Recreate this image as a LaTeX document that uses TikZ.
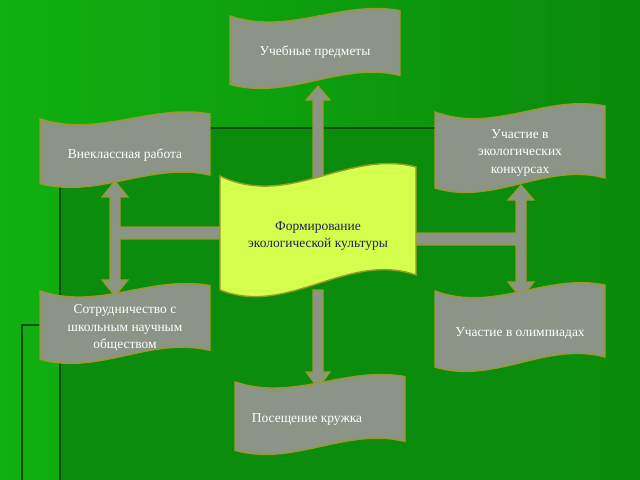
\documentclass[tikz,border=0pt]{standalone}
\usepackage{fontspec}
\setmainfont{Liberation Serif}
\usepackage{tikz}
\definecolor{bgLight}{HTML}{10B010}
\definecolor{bgDark}{HTML}{0A8A0A}
\definecolor{bgBox}{HTML}{0C8C0C}
\definecolor{flagGray}{HTML}{8C9488}
\definecolor{flagEdge}{HTML}{9A9A2A}
\definecolor{flagLime}{HTML}{D4FF4C}
\definecolor{textNavy}{HTML}{1A2450}

% wave banner: name, cx, cy, half width, half height, fill
\newcommand\waveflag[6]{%
  \draw[flagEdge, line width=1.2pt, fill=#6]
    ({#2-#4},{#3-#5}) .. controls ({#2-#4*0.3},{#3-#5+#5*0.55}) and ({#2+#4*0.3},{#3-#5-#5*0.45}) .. ({#2+#4},{#3-#5-#5*0.15})
    -- ({#2+#4},{#3+#5-#5*0.35}) .. controls ({#2+#4*0.3},{#3+#5-#5*0.75}) and ({#2-#4*0.3},{#3+#5+#5*0.35}) .. ({#2-#4},{#3+#5-#5*0.1})
    -- cycle;
  \coordinate (#1) at (#2,#3);}

\tikzset{
  flagtext/.style={text=white, align=center, font=\fontsize{11.5}{15}\selectfont},
  arrowbody/.style={fill=flagGray, draw=flagEdge, line width=1pt, line join=miter}
}

\begin{document}
\begin{tikzpicture}[x=0.03cm, y=-0.03cm]
  \useasboundingbox (0,0) rectangle (640,480);
  % background
  \shade[left color=bgLight, right color=bgDark] (0,0) rectangle (640,480);
  \fill[bgBox] (60,128) rectangle (560,480);
  \draw[green!30!black, line width=1.5pt] (60,480) -- (60,128) -- (560,128);
  \draw[green!30!black, line width=1.5pt] (22,480) -- (22,325) -- (40,325);

  % arrows up and down from the centre
  \path[arrowbody] (313,178) -- (313,100) -- (306,100) -- (318,86) -- (330,100) -- (323,100) -- (323,178) -- cycle;
  \path[arrowbody] (313,290) -- (313,372) -- (306,372) -- (318,388) -- (330,372) -- (323,372) -- (323,290) -- cycle;
  % left branch
  \path[arrowbody] (222,227) -- (120,227) -- (120,197) -- (128,197) -- (115,181) -- (102,197) -- (110,197)
    -- (110,280) -- (102,280) -- (115,296) -- (128,280) -- (120,280) -- (120,239) -- (222,239) -- cycle;
  % right branch
  \path[arrowbody] (412,233) -- (516,233) -- (516,200) -- (508,200) -- (521,185) -- (534,200) -- (526,200)
    -- (526,282) -- (534,282) -- (521,298) -- (508,282) -- (516,282) -- (516,245) -- (412,245) -- cycle;

  % banners
  \waveflag{subjects}{315}{52}{85}{36}{flagGray}
  \node[flagtext] (tSubjects) at (315,52) {Учебные предметы};
  \waveflag{extra}{125}{153}{85}{34}{flagGray}
  \node[flagtext] (tExtra) at (125,155) {Внеклассная работа};
  \waveflag{contests}{520}{152}{85}{40}{flagGray}
  \node[flagtext] (tContests) at (520,153) {Участие в\\экологических\\конкурсах};
  \waveflag{core}{318}{236}{98}{60}{flagLime}
  \node[align=center, text=textNavy, font=\fontsize{11.5}{15}\selectfont] (tCore) at (318,236) {Формирование\\экологической культуры};
  \waveflag{society}{125}{327}{85}{36}{flagGray}
  \node[flagtext] (tSociety) at (125,328) {Сотрудничество с\\школьным научным\\обществом};
  \waveflag{olymp}{520}{331}{85}{40}{flagGray}
  \node[flagtext] (tOlymp) at (520,333) {Участие в олимпиадах};
  \waveflag{club}{320}{418}{85}{36}{flagGray}
  \node[flagtext] (tClub) at (307,420) {Посещение кружка};
\end{tikzpicture}
\end{document}
